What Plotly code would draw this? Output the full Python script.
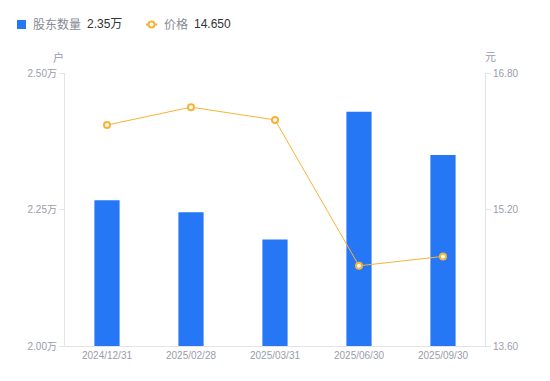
import plotly.graph_objects as go

categories = ["2024/12/31", "2025/02/28", "2025/03/31", "2025/06/30", "2025/09/30"]
holders_wan = [2.267, 2.245, 2.195, 2.429, 2.35]
price = [16.19, 16.40, 16.25, 14.54, 14.65]
left_ticks = [2.00, 2.25, 2.50]
left_ticktext = ["2.00万", "2.25万", "2.50万"]
right_ticks = [13.60, 15.20, 16.80]
right_ticktext = ["13.60", "15.20", "16.80"]
legend_names = ["股东数量", "价格"]
legend_values = ["2.35万", "14.650"]

FONT = "Liberation Sans, Arial, Noto Sans CJK SC, sans-serif"
GREY = "#9a9dab"
AXIS = "#e3e4e8"
BLUE = "#2577f5"
ORANGE = "#f8b236"

# page body has an 8px default margin; compensate so the plot lands where the reference has it
OFF = 8
W, H = 550 - OFF, 381 - OFF
L, R, T, B = 65 - OFF, 65, 73 - OFF, 35
PX0, PX1, PY0, PY1 = 65, 485, 73, 346  # plot area in page pixels


def px(x):
    return (x - PX0) / (PX1 - PX0)


def py(y):
    return (PY1 - y) / (PY1 - PY0)


fig = go.Figure()
fig.add_trace(go.Bar(
    x=categories, y=holders_wan, name=legend_names[0],
    marker=dict(color=BLUE, line=dict(width=0)), width=0.3, yaxis="y",
))
fig.add_trace(go.Scatter(
    x=categories, y=price, name=legend_names[1],
    mode="lines+markers", yaxis="y2",
    line=dict(color=ORANGE, width=1),
    marker=dict(size=6, color="white", line=dict(color=ORANGE, width=2)),
))

annotations = [
    dict(text="户", x=px(58), y=py(57), xanchor="center", yanchor="middle"),
    dict(text="元", x=px(490), y=py(57), xanchor="center", yanchor="middle"),
    dict(text=legend_names[0], x=px(31), y=py(24.5), xanchor="left", yanchor="middle",
         font=dict(size=12, color="#888a94")),
    dict(text=legend_values[0], x=px(85), y=py(24.5), xanchor="left", yanchor="middle",
         font=dict(size=12, color="#333333")),
    dict(text=legend_names[1], x=px(161.5), y=py(24.5), xanchor="left", yanchor="middle",
         font=dict(size=12, color="#888a94")),
    dict(text=legend_values[1], x=px(191.5), y=py(24.5), xanchor="left", yanchor="middle",
         font=dict(size=12, color="#333333")),
]
for a in annotations:
    a.update(xref="paper", yref="paper", showarrow=False)
    a.setdefault("font", dict(size=11, color=GREY))

shapes = [
    dict(type="rect", x0=px(17), x1=px(26), y0=py(20), y1=py(29),
         fillcolor=BLUE, line=dict(width=0)),
    dict(type="line", x0=px(146), x1=px(157), y0=py(24.5), y1=py(24.5),
         line=dict(color=ORANGE, width=2)),
    dict(type="circle", x0=px(148.5), x1=px(154.5), y0=py(21.5), y1=py(27.5),
         fillcolor="white", line=dict(color=ORANGE, width=2)),
]
for s in shapes:
    s.update(xref="paper", yref="paper")

fig.update_layout(
    width=W, height=H,
    margin=dict(l=L, r=R, t=T, b=B, autoexpand=False),
    paper_bgcolor="white", plot_bgcolor="white",
    font=dict(family=FONT, size=11, color=GREY),
    showlegend=False,
    xaxis=dict(type="category", showline=True, linecolor=AXIS, linewidth=1,
               ticks="", showgrid=False, tickfont=dict(size=10, color=GREY)),
    yaxis=dict(range=[2.0, 2.5], tickvals=left_ticks, ticktext=left_ticktext,
               showline=True, linecolor=AXIS, ticks="outside", ticklen=5, tickcolor=AXIS,
               showgrid=False, zeroline=False, tickfont=dict(size=10, color=GREY)),
    yaxis2=dict(range=[13.6, 16.8], tickvals=right_ticks, ticktext=right_ticktext,
                overlaying="y", side="right",
                showline=True, linecolor=AXIS, ticks="outside", ticklen=5, tickcolor=AXIS,
                showgrid=False, zeroline=False, tickfont=dict(size=10, color=GREY)),
    annotations=annotations,
    shapes=shapes,
)

fig.write_html("out.html")
